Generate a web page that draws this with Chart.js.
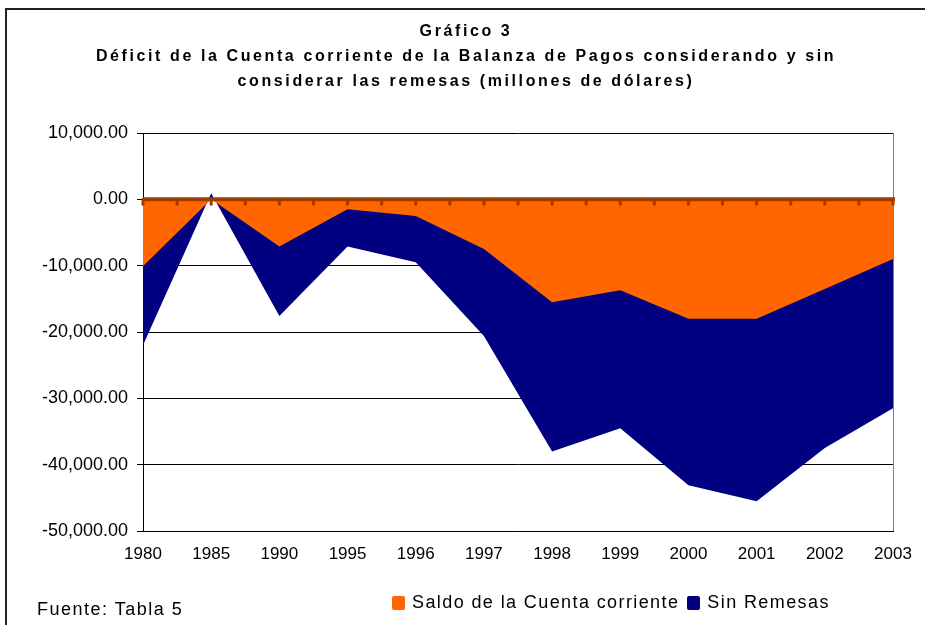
<!DOCTYPE html>
<html lang="es">
<head>
    <meta charset="UTF-8">
    <title>Gráfico 3 - Déficit de la Cuenta corriente</title>
    <script src="https://cdn.jsdelivr.net/npm/chart.js"></script>
    <style>
        body {
            margin: 0;
            background: #fff;
            font-family: "Liberation Sans", Arial, sans-serif;
        }
        .wrap {
            position: relative;
            width: 925px;
            height: 625px;
            overflow: hidden;
        }
        .frame {
            position: absolute;
            left: 5px;
            top: 8px;
            width: 1000px;
            height: 700px;
            border-left: 2px solid #222;
            border-top: 2px solid #222;
        }
        .title {
            position: absolute;
            left: 0;
            top: 18px;
            width: 932px;
            text-align: center;
            font-weight: bold;
            font-size: 16px;
            line-height: 25px;
            letter-spacing: 2.6px;
            color: #000;
        }
        .legend {
            position: absolute;
            left: 392px;
            top: 592px;
            display: flex;
            align-items: center;
            font-size: 18px;
            letter-spacing: 1.4px;
            color: #000;
        }
        .legend .box {
            display: inline-block;
            width: 13px;
            height: 14px;
            border-radius: 2px;
            margin-right: 7px;
        }
        .legend .item {
            display: flex;
            align-items: center;
            margin-right: 8px;
        }
        .fuente {
            position: absolute;
            left: 37px;
            top: 599px;
            font-size: 18px;
            letter-spacing: 1.5px;
            color: #000;
        }
        canvas {
            position: absolute;
            left: 0;
            top: 0;
        }
    </style>
</head>
<body>
    <div class="wrap">
        <div class="frame"></div>
        <canvas id="chart" width="925" height="625"></canvas>
        <div class="title">
            Gráfico 3<br>
            Déficit de la Cuenta corriente de la Balanza de Pagos considerando y sin<br>
            considerar las remesas (millones de dólares)
        </div>
        <div class="legend">
            <span class="item"><span class="box" style="background:#FF6600"></span>Saldo de la Cuenta corriente</span>
            <span class="item"><span class="box" style="background:#000080"></span>Sin Remesas</span>
        </div>
        <div class="fuente">Fuente: Tabla 5</div>
    </div>

    <script>
        // Data (millones de dólares)
        const years = ['1980', '1985', '1990', '1995', '1996', '1997', '1998', '1999', '2000', '2001', '2002', '2003'];
        const saldo = [-10100, 0, -7100, -1500, -2500, -7500, -15500, -13700, -18000, -18000, -13500, -9000];
        const sinRemesas = [-22000, 900, -17600, -7100, -9500, -20600, -38000, -34500, -43100, -45500, -37500, -31500];
        const yTicks = [10000, 0, -10000, -20000, -30000, -40000, -50000];

        // Zero line with small tick marks and gray right border of the plot
        const zeroLine = {
            id: 'zeroLine',
            afterDatasetsDraw(chart) {
                const { ctx, chartArea, scales } = chart;
                const y0 = scales.y.getPixelForValue(0);
                ctx.save();
                ctx.strokeStyle = '#808080';
                ctx.lineWidth = 1;
                ctx.beginPath();
                ctx.moveTo(chartArea.right + 0.5, chartArea.top);
                ctx.lineTo(chartArea.right + 0.5, chartArea.bottom);
                ctx.stroke();

                ctx.strokeStyle = '#A03C00';
                ctx.lineCap = 'round';
                ctx.lineWidth = 3;
                for (let i = 0; i < years.length; i++) {
                    const xs = [scales.x.getPixelForValue(i)];
                    if (i < years.length - 1) xs.push(scales.x.getPixelForValue(i + 0.5));
                    xs.forEach(x => {
                        ctx.beginPath();
                        ctx.moveTo(x, y0);
                        ctx.lineTo(x, y0 + 5);
                        ctx.stroke();
                    });
                }
                ctx.lineCap = 'butt';
                ctx.lineWidth = 4;
                ctx.beginPath();
                ctx.moveTo(chartArea.left, y0);
                ctx.lineTo(chartArea.right + 2, y0);
                ctx.stroke();
                ctx.restore();
            }
        };

        new Chart(document.getElementById('chart'), {
            type: 'line',
            data: {
                labels: years,
                datasets: [{
                    label: 'Saldo de la Cuenta corriente',
                    data: saldo,
                    backgroundColor: '#FF6600',
                    borderColor: '#FF6600',
                    borderWidth: 0,
                    pointRadius: 0,
                    tension: 0,
                    fill: 'origin'
                }, {
                    label: 'Sin Remesas',
                    data: sinRemesas,
                    backgroundColor: '#000080',
                    borderColor: '#000080',
                    borderWidth: 0,
                    pointRadius: 0,
                    tension: 0,
                    fill: 'origin'
                }]
            },
            options: {
                responsive: false,
                animation: false,
                devicePixelRatio: 1,
                layout: {
                    padding: { left: 0, top: 133, right: 32, bottom: 0 }
                },
                plugins: {
                    legend: { display: false },
                    title: { display: false },
                    tooltip: { enabled: false }
                },
                scales: {
                    x: {
                        offset: false,
                        grid: { display: false, drawTicks: false },
                        border: { display: true, color: '#000', width: 1 },
                        ticks: {
                            autoSkip: false,
                            maxRotation: 0,
                            padding: 13,
                            color: '#000',
                            font: { family: 'Liberation Sans', size: 17 }
                        },
                        afterFit(scale) { scale.height = 94; }
                    },
                    y: {
                        min: -50000,
                        max: 10000,
                        afterBuildTicks(scale) {
                            scale.ticks = yTicks.map(v => ({ value: v }));
                        },
                        grid: { color: '#000', lineWidth: 1, tickLength: 6 },
                        border: { display: true, color: '#000', width: 1 },
                        ticks: {
                            padding: 9,
                            color: '#000',
                            font: { family: 'Liberation Sans', size: 18 },
                            callback: v => v.toLocaleString('en-US', { minimumFractionDigits: 2, maximumFractionDigits: 2 })
                        },
                        afterFit(scale) { scale.width = 143; }
                    }
                }
            },
            plugins: [zeroLine]
        });
    </script>
</body>
</html>
